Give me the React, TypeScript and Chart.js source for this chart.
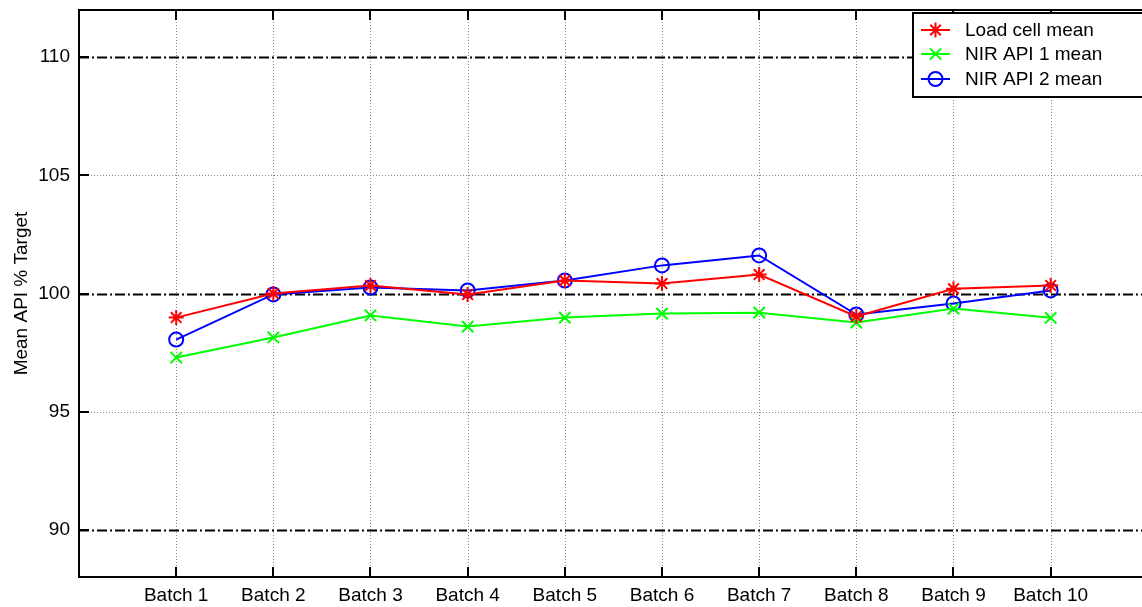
import React, { useEffect, useRef } from "react";
import { Chart, registerables } from "chart.js";

Chart.register(...registerables);

const categories = ["Batch 1", "Batch 2", "Batch 3", "Batch 4", "Batch 5", "Batch 6", "Batch 7", "Batch 8", "Batch 9", "Batch 10"];
const loadCellMean = [98.98, 100.0, 100.34, 99.96, 100.55, 100.42, 100.8, 99.03, 100.2, 100.34];
const nirApi1Mean = [97.29, 98.14, 99.07, 98.6, 98.98, 99.15, 99.19, 98.77, 99.36, 98.97];
const nirApi2Mean = [98.05, 99.96, 100.25, 100.13, 100.55, 101.19, 101.61, 99.11, 99.58, 100.13];
const yTicks = [90, 95, 100, 105, 110];
const majorY = [90, 100, 110];

const FONT = "Arial, 'Liberation Sans', sans-serif";
const FSIZE = 19;

const toPoints = (vals: number[]) => vals.map((v, i) => ({ x: i + 1, y: v }));

function drawPoint(ctx: CanvasRenderingContext2D, style: string, r: number, x: number, y: number, color: string) {
  ctx.save();
  ctx.strokeStyle = color;
  ctx.lineWidth = 2;
  ctx.beginPath();
  if (style === "circle") {
    ctx.arc(x, y, r, 0, Math.PI * 2);
  } else if (style === "crossRot") {
    const d = r * Math.SQRT1_2;
    ctx.moveTo(x - d, y - d); ctx.lineTo(x + d, y + d);
    ctx.moveTo(x - d, y + d); ctx.lineTo(x + d, y - d);
  } else {
    const d = r * Math.SQRT1_2;
    ctx.moveTo(x - r, y); ctx.lineTo(x + r, y);
    ctx.moveTo(x, y - r); ctx.lineTo(x, y + r);
    ctx.moveTo(x - d, y - d); ctx.lineTo(x + d, y + d);
    ctx.moveTo(x - d, y + d); ctx.lineTo(x + d, y - d);
  }
  ctx.stroke();
  ctx.restore();
}

const customPlugin = {
  id: "matlabStyle",
  beforeDatasetsDraw(chart: any) {
    const { ctx, chartArea } = chart;
    const xs = chart.scales.x;
    const ys = chart.scales.y;
    ctx.save();
    ctx.beginPath();
    ctx.rect(chartArea.left, chartArea.top, chartArea.right - chartArea.left, chartArea.bottom - chartArea.top);
    ctx.clip();
    ctx.strokeStyle = "#8a8a8a";
    ctx.lineWidth = 1;
    ctx.setLineDash([1, 2]);
    categories.forEach((_, i) => {
      const x = Math.round(xs.getPixelForValue(i + 1)) + 0.5;
      ctx.beginPath();
      ctx.moveTo(x, chartArea.top);
      ctx.lineTo(x, chartArea.bottom);
      ctx.stroke();
    });
    yTicks.forEach((v) => {
      const y = Math.round(ys.getPixelForValue(v)) + 0.5;
      ctx.beginPath();
      if (majorY.includes(v)) {
        ctx.strokeStyle = "#000";
        ctx.lineWidth = 2;
        ctx.setLineDash([10, 3, 2, 3]);
      } else {
        ctx.strokeStyle = "#8a8a8a";
        ctx.lineWidth = 1;
        ctx.setLineDash([1, 2]);
      }
      ctx.moveTo(chartArea.left, y);
      ctx.lineTo(chartArea.right, y);
      ctx.stroke();
    });
    ctx.restore();
  },
  afterDatasetsDraw(chart: any) {
    const { ctx, chartArea } = chart;
    const xs = chart.scales.x;
    const ys = chart.scales.y;
    ctx.save();
    ctx.setLineDash([]);
    ctx.strokeStyle = "#000";
    ctx.lineWidth = 2;
    ctx.beginPath();
    ctx.moveTo(chartArea.right + 2, chartArea.top);
    ctx.lineTo(chartArea.left, chartArea.top);
    ctx.lineTo(chartArea.left, chartArea.bottom);
    ctx.lineTo(chartArea.right + 2, chartArea.bottom);
    ctx.stroke();
    categories.forEach((_, i) => {
      const x = Math.round(xs.getPixelForValue(i + 1));
      ctx.beginPath();
      ctx.moveTo(x, chartArea.bottom);
      ctx.lineTo(x, chartArea.bottom - 10);
      ctx.moveTo(x, chartArea.top);
      ctx.lineTo(x, chartArea.top + 10);
      ctx.stroke();
    });
    yTicks.forEach((v) => {
      const y = Math.round(ys.getPixelForValue(v));
      ctx.beginPath();
      ctx.moveTo(chartArea.left, y);
      ctx.lineTo(chartArea.left + 10, y);
      ctx.stroke();
    });
    // legend
    const lx = 913, ly = 13, lw = 240, lh = 84;
    ctx.fillStyle = "#fff";
    ctx.fillRect(lx, ly, lw, lh);
    ctx.strokeRect(lx, ly, lw, lh);
    const rows = [30, 54, 79];
    chart.data.datasets.forEach((ds: any, i: number) => {
      const y = rows[i];
      ctx.strokeStyle = ds.borderColor;
      ctx.lineWidth = 2;
      ctx.beginPath();
      ctx.moveTo(921, y);
      ctx.lineTo(950, y);
      ctx.stroke();
      drawPoint(ctx, ds.pointStyle, ds.pointRadius, 935.5, y, ds.borderColor);
      ctx.fillStyle = "#000";
      ctx.font = `${FSIZE}px ${FONT}`;
      ctx.textBaseline = "middle";
      ctx.textAlign = "left";
      ctx.fillText(ds.label, 965, y + 1);
    });
    ctx.restore();
  },
};

export default function App() {
  const ref = useRef<HTMLCanvasElement>(null);
  useEffect(() => {
    document.body.style.margin = "0";
    const chart = new Chart(ref.current!, {
      type: "line",
      data: {
        datasets: [
          { label: "Load cell mean", data: toPoints(loadCellMean), borderColor: "#ff0000", backgroundColor: "transparent", borderWidth: 2, pointStyle: "star", pointRadius: 7.5, pointBorderWidth: 2, pointBackgroundColor: "transparent" },
          { label: "NIR API 1 mean", data: toPoints(nirApi1Mean), borderColor: "#00ff00", backgroundColor: "transparent", borderWidth: 2, pointStyle: "crossRot", pointRadius: 8, pointBorderWidth: 2, pointBackgroundColor: "transparent" },
          { label: "NIR API 2 mean", data: toPoints(nirApi2Mean), borderColor: "#0000ff", backgroundColor: "transparent", borderWidth: 2, pointStyle: "circle", pointRadius: 7, pointBorderWidth: 2, pointBackgroundColor: "transparent" },
        ] as any,
      },
      options: {
        animation: false,
        responsive: false,
        layout: { autoPadding: false, padding: { top: 10, right: 0, left: 0, bottom: 0 } },
        plugins: { legend: { display: false }, tooltip: { enabled: false } },
        scales: {
          x: {
            type: "linear",
            min: 0,
            max: 10.94,
            grid: { display: false, drawTicks: false },
            border: { display: false },
            afterBuildTicks: (s: any) => { s.ticks = categories.map((_, i) => ({ value: i + 1 })); },
            afterFit: (s: any) => { s.height = 30; s.paddingLeft = 0; s.paddingRight = 0; },
            ticks: {
              autoSkip: false,
              maxRotation: 0,
              padding: 7,
              color: "#000",
              font: { family: FONT, size: FSIZE },
              callback: (v: any) => categories[Math.round(v) - 1] ?? "",
            },
          },
          y: {
            min: 88,
            max: 112,
            grid: { display: false, drawTicks: false },
            border: { display: false },
            afterBuildTicks: (s: any) => { s.ticks = yTicks.map((v) => ({ value: v })); },
            afterFit: (s: any) => { s.width = 79; s.paddingTop = 0; s.paddingBottom = 0; },
            ticks: { padding: 9, color: "#000", font: { family: FONT, size: FSIZE } },
            title: { display: true, text: "Mean API % Target", color: "#000", font: { family: FONT, size: FSIZE }, padding: { top: 10, bottom: 0 } },
          },
        },
      } as any,
      plugins: [customPlugin],
    });
    return () => chart.destroy();
  }, []);
  return <canvas ref={ref} width={1142} height={607} style={{ display: "block" }} />;
}
